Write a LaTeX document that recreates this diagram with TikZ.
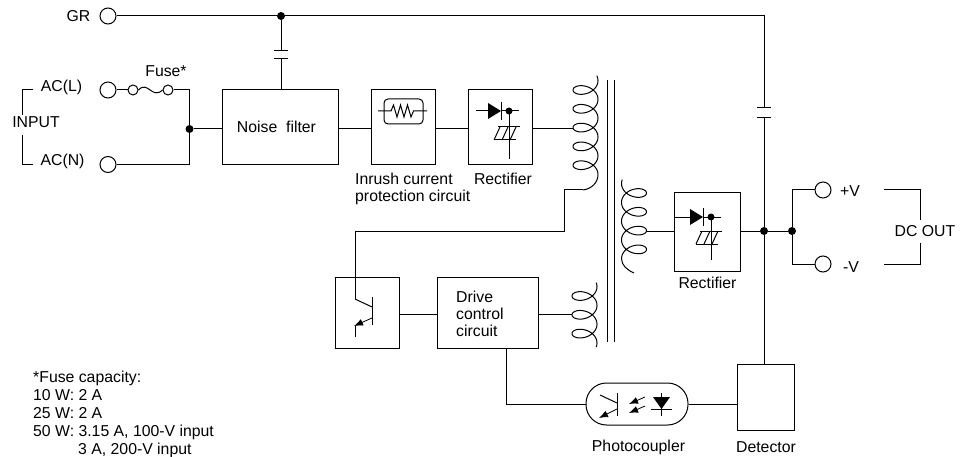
\documentclass[tikz,border=0pt]{standalone}
\usepackage{fontspec}
\setmainfont{Liberation Sans}
\usetikzlibrary{shapes.geometric}
\usetikzlibrary{calc}
\usetikzlibrary{arrows.meta}
\tikzset{
    wire/.style={line width=1pt},
    block/.style={draw, line width=1pt, inner sep=0pt},
    port/.style={circle, draw, line width=1pt, inner sep=0pt, minimum size=16pt},
    fusepin/.style={circle, draw, line width=1pt, inner sep=0pt, minimum size=10pt},
    junction/.style={circle, fill=black, inner sep=0pt, minimum size=8pt},
    label/.style={inner sep=0pt, font=\fontsize{15.8}{17}\selectfont},
    plate/.style={line width=1pt},
    tip/.style={-{Latex[length=9pt,width=7pt]}, line width=.8pt}
}
% #1 centre x, #2 y at angle 0, #3 direction, #4 start angle, #5 end angle
\newcommand{\coil}[5]{
    \draw[wire] plot[domain=#4:#5, samples=300, smooth]
        ({#1+#3*12.5*cos(\x)}, {#2+\x/360*18.8+8.5*sin(\x)});
}
% #1 left x, #2 y of the diode, #3 shift of the plates, #4 length of the stem
\newcommand{\rectsym}[4]{
    \fill (#1,#2-8) -- (#1+13,#2) -- (#1,#2+8) -- cycle;
    \draw[wire] (#1+13.5,#2-9) -- (#1+13.5,#2+9);
    \draw[wire] (#1+13,#2) -- (#1+31,#2);
    \fill (#1+21,#2) circle (3.5pt);
    \draw[wire] (#1+21,#2) -- (#1+21,#2+#4);
    \draw[plate] (#1+10,#2+#3+16) -- (#1+32,#2+#3+16);
    \draw[plate] (#1+6,#2+#3+29) -- (#1+28,#2+#3+29);
    \foreach \k in {0,8,16}
        \draw[plate] (#1+6+\k,#2+#3+29) -- (#1+12+\k,#2+#3+16);
}
\begin{document}
\begin{tikzpicture}[x=1pt, y=-1pt]
    \useasboundingbox (0,0) rectangle (966,457);

    % terminals
    \node[port] (gr) at (108,16) {};
    \node[port] (acl) at (108,90) {};
    \node[port] (acn) at (108,164.5) {};
    \node[port] (plus) at (823,190) {};
    \node[port] (minus) at (823,264) {};
    \node[fusepin] (fusea) at (133,90) {};
    \node[fusepin] (fuseb) at (168,90) {};

    % blocks
    \node[block, minimum width=115.5pt, minimum height=74.5pt] (noise) at (280.25,127.25) {};
    \node[block, minimum width=64pt, minimum height=75pt] (inrush) at (403,127.5) {};
    \node[block, minimum width=64pt, minimum height=75pt] (rect) at (500,127.5) {};
    \node[block, minimum width=66pt, minimum height=78pt] (rectb) at (707,232) {};
    \node[block, minimum width=64pt, minimum height=71pt] (sw) at (367,312.5) {};
    \node[block, minimum width=101pt, minimum height=71pt] (drive) at (487.5,312.5) {};
    \node[block, minimum width=57pt, minimum height=66pt] (detector) at (765.5,397) {};
    \node[block, rounded corners=20.5pt, minimum width=102pt, minimum height=42pt] (coupler) at (637,404) {};
    \node[draw, line width=1pt, rounded corners=4pt, inner sep=0pt, minimum width=39pt, minimum height=25pt] (therm) at (403.5,111.5) {};

    % junctions
    \node[junction] (jgr) at (281,16) {};
    \node[junction] (jin) at (189.5,129) {};
    \node[junction] (jdet) at (764,231) {};
    \node[junction] (jout) at (792,231) {};

    % capacitors
    \coordinate (capa) at (281,50.5);
    \coordinate (capb) at (281,59);
    \coordinate (capc) at (764,108);
    \coordinate (capd) at (764,118);
    \draw[plate] ($(capa)+(-7,0)$) -- ($(capa)+(7,0)$);
    \draw[plate] ($(capb)+(-7,0)$) -- ($(capb)+(7,0)$);
    \draw[plate] ($(capc)+(-7,0)$) -- ($(capc)+(7,0)$);
    \draw[plate] ($(capd)+(-7,0)$) -- ($(capd)+(7,0)$);

    % input side
    \draw[wire] (gr) -- (jgr);
    \draw[wire] (jgr) -- (capa);
    \draw[wire] (capb) -- (capb |- noise.north);
    \draw[wire] (jgr) -- (jgr -| capc) -- (capc);
    \draw[wire] (capd) -- (jdet);
    \draw[wire] (jdet) -- (jdet |- detector.north);
    \draw[wire] (acl) -- (fusea);
    \draw[wire] (fusea.east) .. controls (148,80) and (152,100) .. (fuseb.west);
    \draw[wire] (fuseb) -- (fuseb -| jin) -- (jin);
    \draw[wire] (acn) -- (acn -| jin) -- (jin);
    \draw[wire] (jin) -- (jin -| noise.west);
    \draw[wire] (jin -| noise.east) -- (jin -| inrush.west);
    \draw[wire] (jin -| inrush.east) -- (jin -| rect.west);
    \coordinate (pri) at (573,129);
    \draw[wire] (pri -| rect.east) -- (pri);

    % inrush symbol
    \coordinate (tha) at (378,111);
    \coordinate (thb) at (427,111);
    \draw[wire] (tha) -- (391,111) -- (393.5,105) -- (397,117) -- (400.5,105) -- (404,117) -- (407.5,105) -- (411,117) -- (413.5,111) -- (thb);

    % rectifiers
    \coordinate (leada) at (476,111);
    \draw[wire] (leada) -- (488,111);
    \rectsym{488}{111}{0}{48}
    \draw[wire] (rectb.west |- 0,217) -- (690,217);
    \rectsym{690}{217}{-2}{43}

    % transformer
    \coordinate (corea) at (607,80);
    \coordinate (coreb) at (614,80);
    \draw[wire] (corea) -- (607,342);
    \draw[wire] (coreb) -- (614,342);
    \coil{585.5}{80.6}{1}{-25}{1800}
    \coil{584.5}{286.6}{1}{-20}{1100}
    \coil{634}{183.6}{-1}{-20}{1440}
    \draw[wire] (598,174.6) .. controls (598,183) and (591,189) .. (583,190);
    \draw[wire] (621.5,258.8) .. controls (621.5,265) and (627,270) .. (634,273);

    % switch
    \coordinate (feed) at (583,190);
    \coordinate (collector) at (355,299);
    \draw[wire] (feed) -- (564,190) -- (564,231) -- (355,231) -- (collector);
    \draw[wire] (372,297) -- (372,325);
    \draw[wire] (collector) -- (372,307);
    \draw[wire] (355,337) -- (355,326);
    \draw[tip] (372,318) -- (354,326);

    % middle wires
    \coordinate (sec) at (646,231);
    \draw[wire] (sec) -- (sec -| rectb.west);
    \draw[wire] (jdet -| rectb.east) -- (jdet);
    \draw[wire] (jdet) -- (jout);
    \draw[wire] (jout) |- (plus);
    \draw[wire] (jout) |- (minus);
    \coordinate (aux) at (572,314);
    \draw[wire] (sw.east |- aux) -- (drive.west |- aux);
    \draw[wire] (drive.east |- aux) -- (aux);
    \draw[wire] (506.5,348) |- (coupler.west);
    \draw[wire] (coupler.east) -- (coupler.east -| detector.west);

    % coupler symbols
    \draw[wire] (617,393) -- (617,416);
    \draw[wire] (600,395) -- (617,403);
    \draw[tip] (617,409) -- (599,418);
    \draw[tip] (645,397) -- (629,404);
    \draw[tip] (645,406) -- (629,413);
    \fill (653,397) -- (670,397) -- (661.5,409) -- cycle;
    \draw[wire] (651,409.5) -- (672,409.5);
    \draw[wire] (661.5,393) -- (661.5,416);

    % brackets
    \draw[wire] (33,90) -- (22.5,90) -- (22.5,115);
    \draw[wire] (22.5,135) -- (22.5,164.5) -- (33,164.5);
    \draw[wire] (884,190) -- (920,190) -- (920,220);
    \draw[wire] (920,243) -- (920,264) -- (884,264);

    % labels
    \node[label] (lgr) at (78.5,16) {GR};
    \node[label] (lfuse) at (166,71) {Fuse*};
    \node[label] (lacl) at (61.5,87) {AC(L)};
    \node[label] (lacn) at (62.5,161) {AC(N)};
    \node[label] (lin) at (36,122.5) {INPUT};
    \node[label] (lnoise) at (276.5,127) {Noise\ \ filter};
    \node[label, align=left, anchor=north west] (linrush) at (355,173) {Inrush current\\protection circuit};
    \node[label] (lrect) at (503,179) {Rectifier};
    \node[label] (lrectb) at (707.5,283) {Rectifier};
    \node[label, align=left, anchor=north west] (ldrive) at (456,291) {Drive\\control\\circuit};
    \node[label] (lplus) at (850,191) {+V};
    \node[label] (lminus) at (851,267) {-V};
    \node[label] (ldc) at (925,231) {DC OUT};
    \node[label] (lcoupler) at (638.5,447) {Photocoupler};
    \node[label] (ldetector) at (766,447) {Detector};
    \node[label, font=\fontsize{15.8}{18}\selectfont, align=left, anchor=north west] (lnote) at (33,371) {*Fuse capacity:\\10 W: 2 A\\25 W: 2 A\\50 W: 3.15 A, 100-V input\\\hspace{45pt}3 A, 200-V input};
\end{tikzpicture}
\end{document}
